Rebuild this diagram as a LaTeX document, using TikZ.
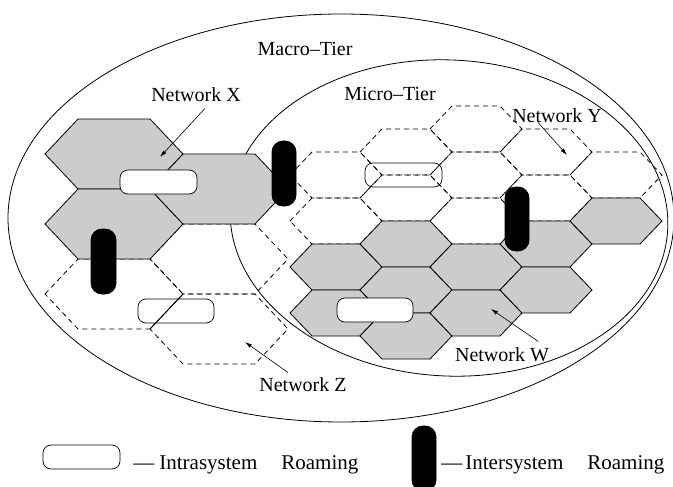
\documentclass[tikz,border=0pt]{standalone}
\usepackage{fontspec}
\setmainfont{Liberation Serif}
\usetikzlibrary{arrows.meta}
\definecolor{cellgray}{HTML}{CCCCCC}
\tikzset{%
    >={Latex[length=7pt,width=4pt]}
}
% one big cell of the macro tier and one small cell of the micro tier
\newcommand{\macrocell}[2][]{%
  \draw[#1, shift={(#2)}] (-69,0) -- (-36,-35) -- (36,-35) -- (69,0) -- (36,35) -- (-36,35) -- cycle;}
\newcommand{\microcell}[2][]{%
  \draw[#1, shift={(#2)}] (-46,0) -- (-24,-23) -- (24,-23) -- (46,0) -- (24,23) -- (-24,23) -- cycle;}

\begin{document}
\begin{tikzpicture}[x=1pt, y=-1pt, line width=0.8pt,
  every node/.style={font=\fontsize{20}{24}\selectfont, inner sep=1pt},
  keytext/.style={font=\fontsize{21}{24}\selectfont, anchor=base west},
  cellfill/.style={fill=cellgray, draw=black},
  dashcell/.style={dash pattern=on 5pt off 4pt},
  intra/.style={rounded corners=8pt, line width=0.7pt},
  inter/.style={rounded corners=11pt, fill=black}]
  \clip (0,0) rectangle (673,487);

  % tiers
  \draw (341,218) ellipse [x radius=333, y radius=204];
  \draw[rotate around={-3:(449,218)}] (449,218) ellipse [x radius=219, y radius=158];

  % network Z and network Y
  \foreach \cx/\cy in {114/294, 219/259, 219/329}
    {\macrocell[dashcell]{\cx,\cy}}
  \draw (183,294) -- (150,329);
  \foreach \cx/\cy in {336/175, 336/221, 406/152, 406/198, 476/129, 476/175, 476/221, 546/152, 546/198, 616/175}
    {\microcell[dashcell]{\cx,\cy}}

  % network X and network W
  \foreach \cx/\cy in {114/154, 114/224, 219/189}
    {\macrocell[cellfill]{\cx,\cy}}
  \foreach \cx/\cy in {336/267, 336/313, 406/244, 406/290, 406/336, 476/267, 476/313, 546/244, 546/290, 616/221}
    {\microcell[cellfill]{\cx,\cy}}

  % roaming
  \draw[intra, fill=white] (120,170) rectangle (197,194);
  \draw[intra, fill=white] (337,298) rectangle (413,322);
  \draw[intra] (138,299) rectangle (214,323);
  \draw[intra] (365,163) rectangle (442,187);
  \draw[inter] (272,141) rectangle (296,206);
  \draw[inter] (91,229) rectangle (116,294);
  \draw[inter] (505,187) rectangle (529,251);

  % labels
  \node (macroT) at (305,49) {Macro--Tier};
  \node (microT) at (390,94) {Micro--Tier};
  \node (netX) at (196,95) {Network X};
  \node (netY) at (557,116) {Network Y};
  \node (netZ) at (303,385) {Network Z};
  \node (netW) at (502,355) {Network W};

  \coordinate (tipX) at (160,157);
  \coordinate (tipY) at (567,155);
  \coordinate (tipZ) at (245,342);
  \coordinate (tipW) at (491,309);
  \draw[->, line width=0.6pt] ([shift={(9,5)}]netX.south) -- (tipX);
  \draw[->, line width=0.6pt] ([shift={(-19,-2)}]netY.south) -- (tipY);
  \draw[->, line width=0.6pt] ([shift={(-15,-4)}]netZ.north) -- (tipZ);
  \draw[->, line width=0.6pt] ([shift={(-12,-5)}]netW.north east) -- (tipW);

  % key
  \draw[intra] (43,445) rectangle (120,469);
  \node[keytext] (keyIntra) at (132,469) {--{}--\hspace{5pt}Intrasystem\hspace{24pt}Roaming};
  \draw[inter] (412,426) rectangle (436,491);
  \node[keytext] (keyInter) at (440,469) {--{}--\hspace{3pt}Intersystem\hspace{24pt}Roaming};
\end{tikzpicture}
\end{document}
